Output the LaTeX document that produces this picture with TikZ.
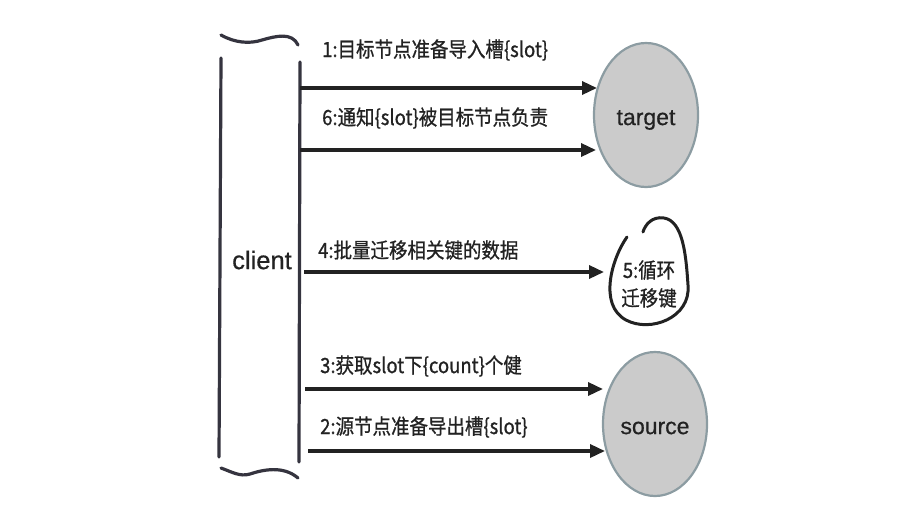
\documentclass[tikz,border=0pt]{standalone}
\usepackage{fontspec}
\setmainfont{Liberation Sans}[FakeBold=0.6]
\newfontfamily\cjk{Noto Sans CJK SC}[FakeStretch=0.88,FakeBold=0.8]
\usetikzlibrary{arrows.meta,shapes.geometric}
\definecolor{ink}{HTML}{222222}
\definecolor{bar}{HTML}{35343F}
\definecolor{nodefill}{HTML}{CBCBCB}
\definecolor{nodeedge}{HTML}{8C9CA2}
\tikzset{
  msg/.style={draw=ink,line width=3.4pt,-{Triangle[length=15pt,width=13pt]}},
  lbl/.style={anchor=west,inner sep=0pt,text=ink,font=\cjk\fontsize{21}{22}\selectfont},
  bracketline/.style={draw=bar,line width=3.2pt,line cap=round},
  server/.style={ellipse,draw=nodeedge,line width=2.2pt,fill=nodefill,minimum width=104pt,minimum height=144pt,inner sep=0pt,text=ink,font=\fontsize{23}{24}\selectfont},
  loopline/.style={draw=ink,line width=3pt,line cap=round}
}
\begin{document}
\begin{tikzpicture}[x=1pt,y=-1pt]
\useasboundingbox (0,0) rectangle (907,520);
% client bracket
\draw[bracketline] (221,58) -- (219,457);
\draw[bracketline] (300,62) -- (299,462);
\draw[bracketline] (221,35) .. controls (235,43) and (250,44) .. (262,40) .. controls (276,36) and (292,32) .. (298,45);
\draw[bracketline] (221,468) .. controls (232,472) and (240,477) .. (250,474) .. controls (262,470) and (283,465) .. (298,478);
\node[text=ink,font=\fontsize{25.5}{26}\selectfont,inner sep=0pt] (client) at (262,260) {client};
% servers
\node[server,text depth=0pt,yshift=0pt] (target) at (646,115) {};
\node[text=ink,font=\fontsize{23}{24}\selectfont,inner sep=0pt] (tlabel) at (646,120) {target};
\node[server] (source) at (655,424) {};
\node[text=ink,font=\fontsize{23}{24}\selectfont,inner sep=0pt] (slabel) at (655,428) {source};
% start / end points
\coordinate (s1) at (300,88);  \coordinate (e1) at (597,88);
\coordinate (s6) at (300,150); \coordinate (e6) at (596,150);
\coordinate (s4) at (304,272); \coordinate (e4) at (604,272);
\coordinate (s3) at (305,389); \coordinate (e3) at (603,389);
\coordinate (s2) at (308,451); \coordinate (e2) at (605,451);
\draw[msg] (s1) -- (e1);
\draw[msg] (s6) -- (e6);
\draw[msg] (s4) -- (e4);
\draw[msg] (s3) -- (e3);
\draw[msg] (s2) -- (e2);
% labels
\node[lbl] (l1) at (322,50) {1:目标节点准备导入槽\{slot\}};
\node[lbl] (l6) at (322,118) {6:通知\{slot\}被目标节点负责};
\node[lbl] (l4) at (318,250) {4:批量迁移相关键的数据};
\node[lbl] (l3) at (320,366) {3:获取slot下\{count\}个健};
\node[lbl] (l2) at (320,427) {2:源节点准备导出槽\{slot\}};
% loop
\draw[loopline] (627,237) .. controls (612,258) and (598,305) .. (626,320) .. controls (650,333) and (691,318) .. (688,285) .. controls (686,255) and (683,221) .. (664,218) .. controls (652,216) and (645,225) .. (643,232);
\node[text=ink,font=\cjk\fontsize{21}{22}\selectfont,inner sep=0pt,align=center] (loop) at (649,284) {5:循环\\[6pt]迁移键};
\end{tikzpicture}
\end{document}
